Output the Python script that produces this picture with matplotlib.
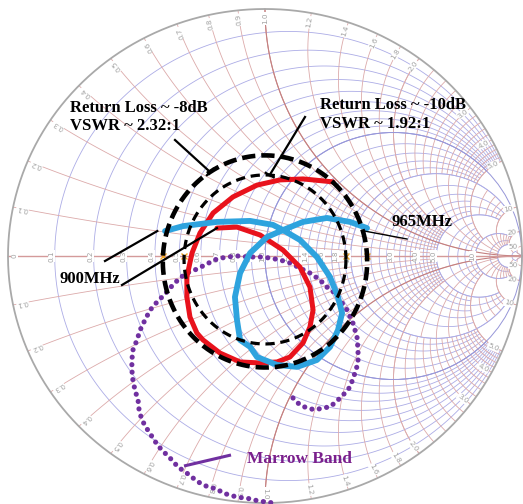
import numpy as np
import matplotlib
matplotlib.use('Agg')
import matplotlib.pyplot as plt

# S11 sweeps as reflection coefficient (real, imag)
red_re = [-0.187, -0.109, -0.019, 0.070, 0.136, 0.175, 0.187, 0.175, 0.148, 0.097, 0.047,
          -0.019, -0.097, -0.175, -0.241, -0.265, -0.292, -0.304, -0.304, -0.284, -0.253,
          -0.202, -0.125, -0.031, 0.058, 0.148, 0.265]
red_im = [0.113, 0.117, 0.085, 0.024, -0.045, -0.126, -0.219, -0.287, -0.352, -0.409, -0.429,
          -0.433, -0.429, -0.393, -0.340, -0.312, -0.247, -0.166, -0.085, 0.012, 0.093,
          0.174, 0.239, 0.287, 0.308, 0.312, 0.300]

blue_re = [-0.389, -0.319, -0.187, -0.058, 0.031, 0.070, 0.136, 0.202, 0.253, 0.284, 0.300,
           0.284, 0.253, 0.202, 0.125, 0.047, -0.031, -0.058, -0.097, -0.109, -0.117, -0.097,
           -0.058, 0.008, 0.070, 0.148, 0.241, 0.331, 0.397]
blue_im = [0.101, 0.121, 0.138, 0.142, 0.126, 0.105, 0.065, -0.004, -0.085, -0.166, -0.231,
           -0.300, -0.368, -0.421, -0.449, -0.441, -0.409, -0.368, -0.340, -0.259, -0.166,
           -0.069, 0.012, 0.077, 0.105, 0.138, 0.154, 0.138, 0.113]

narrow_re = [0.109, 0.136, 0.163, 0.195, 0.226, 0.253, 0.284, 0.311, 0.331, 0.350, 0.362,
             0.362, 0.358, 0.342, 0.319, 0.300, 0.272, 0.241, 0.214, 0.175, 0.136, 0.097,
             0.058, 0.019, -0.019, -0.066, -0.105, -0.148, -0.187, -0.226, -0.265, -0.304,
             -0.331, -0.362, -0.389, -0.420, -0.447, -0.467, -0.486, -0.498, -0.514, -0.518,
             -0.518, -0.514, -0.506, -0.494, -0.490, -0.479, -0.459, -0.436, -0.416, -0.389,
             -0.362, -0.339, -0.304, -0.280, -0.253, -0.222, -0.187, -0.163, -0.136, -0.109,
             -0.078, -0.051, -0.027, 0.008, 0.031]
narrow_im = [-0.575, -0.603, -0.615, -0.623, -0.615, -0.611, -0.583, -0.555, -0.530, -0.474,
             -0.433, -0.381, -0.328, -0.271, -0.219, -0.190, -0.150, -0.126, -0.097, -0.069,
             -0.049, -0.028, -0.016, -0.008, -0.004, -0.004, 0.000, -0.004, -0.012, -0.032,
             -0.053, -0.069, -0.089, -0.121, -0.154, -0.186, -0.219, -0.259, -0.300, -0.340,
             -0.381, -0.421, -0.462, -0.502, -0.543, -0.583, -0.623, -0.664, -0.700, -0.737,
             -0.769, -0.798, -0.826, -0.854, -0.879, -0.899, -0.919, -0.935, -0.943, -0.960,
             -0.968, -0.976, -0.980, -0.984, -0.992, -0.996, -1.000]

vswr_levels = [2.32, 1.92]
rl_levels = [-8, -10]

r_labels = [0, 0.1, 0.2, 0.3, 0.4, 0.5, 0.6, 0.7, 0.8, 0.9, 1.0, 1.2, 1.4, 1.6, 1.8,
            2.0, 3.0, 4.0, 5.0, 10]
x_labels = [0.1, 0.2, 0.3, 0.4, 0.5, 0.6, 0.7, 0.8, 0.9, 1.0, 1.2, 1.4, 1.6, 1.8, 2.0,
            3.0, 4.0, 5.0, 10, 20, 50]

# grid zones: r from, r to, |x| from, |x| to, r step, x step
zones = [
    (0.0, 1.0, 0.0, 1.0, 0.1, 0.1),
    (0.0, 1.0, 1.0, 2.0, 0.1, 0.2),
    (1.0, 2.0, 0.0, 1.0, 0.1, 0.1),
    (1.0, 2.0, 1.0, 2.0, 0.2, 0.2),
    (0.0, 1.0, 2.0, 5.0, 0.1, 0.2),
    (1.0, 2.0, 2.0, 5.0, 0.2, 0.2),
    (2.0, 5.0, 0.0, 2.0, 0.2, 0.2),
    (2.0, 5.0, 2.0, 5.0, 0.5, 0.5),
    (0.0, 2.0, 5.0, 10.0, 2.0, 5.0),
    (2.0, 5.0, 5.0, 10.0, 1.0, 1.0),
    (5.0, 10.0, 0.0, 5.0, 1.0, 1.0),
    (5.0, 10.0, 5.0, 10.0, 5.0, 5.0),
    (0.0, 10.0, 10.0, 20.0, 10.0, 10.0),
    (10.0, 20.0, 0.0, 20.0, 5.0, 2.0),
]

R_COL, X_COL = '#acace6', '#dcaaaa'
R_DARK, X_DARK = '#9696d8', '#c48080'
LABEL_COL = '#a0a0a0'


def gamma(z):
    return (z - 1) / (z + 1)


def r_arc(ax, r, x0, x1, **kw):
    t = np.linspace(np.arctan(x0), np.arctan(x1), 120)
    g = gamma(r + 1j * np.tan(t))
    ax.plot(g.real, g.imag, **kw)


def x_arc(ax, x, r0, r1, **kw):
    s = np.linspace(np.arctan(r0), np.arctan(r1), 120)
    g = gamma(np.tan(s) + 1j * x)
    ax.plot(g.real, g.imag, **kw)


def steps(a, b, d):
    v = list(np.round(np.arange(a, b + 1e-9, d), 6))
    if abs(v[-1] - b) > 1e-6:
        v.append(b)
    return v


def fmt(v):
    if v == 0:
        return '0'
    return f'{v:.1f}' if v < 10 else f'{v:.0f}'


fig = plt.figure(figsize=(5.23, 5.04), dpi=100)
ax = fig.add_axes([0, 0, 1, 1])
ax.set_xlim(-265 / 257, 258 / 257)
ax.set_ylim(-248 / 247, 256 / 247)
ax.axis('off')

thin = dict(lw=0.6, zorder=1, solid_capstyle='butt')
for r0, r1, x0, x1, dr, dx in zones:
    for r in steps(r0, r1, dr):
        if r > 0:
            for sgn in (1, -1):
                r_arc(ax, r, sgn * x0, sgn * x1, color=R_COL, **thin)
    for x in steps(x0, x1, dx):
        if x > 0:
            for sgn in (1, -1):
                x_arc(ax, sgn * x, r0, r1, color=X_COL, **thin)

# outer part of the chart near the open-circuit point
for r, lim in [(20, 50), (50, np.inf)]:
    r_arc(ax, r, -lim, lim, color=R_COL, **thin)
for x, lim in [(20, 50), (50, np.inf)]:
    for sgn in (1, -1):
        x_arc(ax, sgn * x, 0, lim, color=X_COL, **thin)

# heavier lines
r_arc(ax, 1.0, -np.inf, np.inf, color=R_DARK, lw=0.7, zorder=1.2)
for sgn in (1, -1):
    x_arc(ax, sgn * 1.0, 0, np.inf, color=X_DARK, lw=0.8, zorder=1.2)
ax.plot([-1, 1], [0, 0], color='#d49a9a', lw=1.0, zorder=1.2)

th = np.linspace(0, 2 * np.pi, 600)
ax.plot(np.cos(th), np.sin(th), color='#a9a9a9', lw=1.3, zorder=2)

# scale labels
lab = dict(fontsize=5.2, color=LABEL_COL, zorder=3,
           bbox=dict(fc='white', ec='none', pad=0.4))
for r in r_labels:
    g = gamma(r)
    gx = -0.975 if r == 0 else g.real - 0.012
    ax.text(gx, 0, fmt(r), rotation=90, ha='center', va='center', **lab)
for x in x_labels:
    for sgn in (1, -1):
        g = gamma(1j * sgn * x)
        ang = np.angle(g)
        ax.text(0.985 * np.cos(ang), 0.985 * np.sin(ang), fmt(x),
                rotation=np.degrees(ang), rotation_mode='anchor',
                ha='right', va='center', **lab)

# measured traces
ax.plot(narrow_re, narrow_im, color='#7030a0', lw=3.7, ls=(0, (0.01, 1.45)),
        dash_capstyle='round', zorder=4)
ax.plot(red_re, red_im, color='#e8121c', lw=3.6, solid_joinstyle='round',
        solid_capstyle='round', zorder=5)
ax.plot(blue_re, blue_im, color='#2ea3de', lw=4.2, solid_joinstyle='round',
        solid_capstyle='round', zorder=6)

# constant VSWR rings (hand-drawn: a little taller than wide, centre slightly low)
mags = [(s - 1) / (s + 1) for s in vswr_levels]
ring_cy = [-0.022, -0.014]
ring_tall = [1.08, 1.086]
styles = [dict(lw=3.3, ls=(0, (2.9, 1.3))), dict(lw=2.3, ls=(0, (2.9, 1.8)))]
for m, cy, k, st in zip(mags, ring_cy, ring_tall, styles):
    ax.plot(m * np.cos(th), cy + k * m * np.sin(th), color='black', zorder=7, **st)
    ax.plot([-m, m], [0, 0], ls='none', marker='x', ms=5, mew=1.0,
            color='#f5a623', zorder=3)


def px(x, y):
    return (x - 265) / 257, (256 - y) / 247


serif = dict(family='Liberation Serif', weight='bold', fontsize=12, zorder=9)


def leader_t(start, i, ang_deg, lw=1.6, bar=0.018):
    a = np.radians(ang_deg)
    end = np.array([mags[i] * np.cos(a), ring_cy[i] + ring_tall[i] * mags[i] * np.sin(a)])
    s = np.array(start)
    d = (end - s) / np.hypot(*(end - s))
    n = np.array([-d[1], d[0]])
    ax.plot([s[0], end[0]], [s[1], end[1]], color='black', lw=lw, zorder=9)
    ax.plot([end[0] - bar * n[0], end[0] + bar * n[0]],
            [end[1] - bar * n[1], end[1] + bar * n[1]], color='black', lw=lw, zorder=9)


ax.text(*px(70, 112), f'Return Loss ~ {rl_levels[0]}dB', ha='left', va='baseline', **serif)
ax.text(*px(70, 130), f'VSWR ~ {vswr_levels[0]:.2f}:1', ha='left', va='baseline', **serif)
leader_t(px(175, 140), 0, 122.5)

ax.text(*px(320, 109), f'Return Loss ~ {rl_levels[1]}dB', ha='left', va='baseline', **serif)
ax.text(*px(320, 128), f'VSWR ~ {vswr_levels[1]:.2f}:1', ha='left', va='baseline', **serif)
leader_t(px(305, 117), 1, 86.7)

ax.text(*px(392, 226), '965MHz', ha='left', va='baseline', **serif)
ax.plot([blue_re[-1] - 0.02, px(407, 239)[0]], [blue_im[-1] - 0.01, px(407, 239)[1]],
        color='black', lw=1.0, zorder=9)

ax.text(*px(60, 283), '900MHz', ha='left', va='baseline', **serif)
ax.plot([px(105, 261)[0], blue_re[0] - 0.03], [px(105, 261)[1], blue_im[0]],
        color='black', lw=1.6, zorder=9)
ax.plot([px(122, 285)[0], red_re[0]], [px(122, 285)[1], red_im[0]],
        color='black', lw=1.6, zorder=9)

ax.text(*px(247, 463), 'Marrow Band', ha='left', va='baseline', color='#7a1f8c',
        **{**serif, 'fontsize': 12.5})
ax.plot([px(184, 466)[0], px(231, 455)[0]], [px(184, 466)[1], px(231, 455)[1]],
        color='#7030a0', lw=2.2, solid_capstyle='butt', zorder=9)

fig.savefig('out.png', dpi=100, facecolor='white')
